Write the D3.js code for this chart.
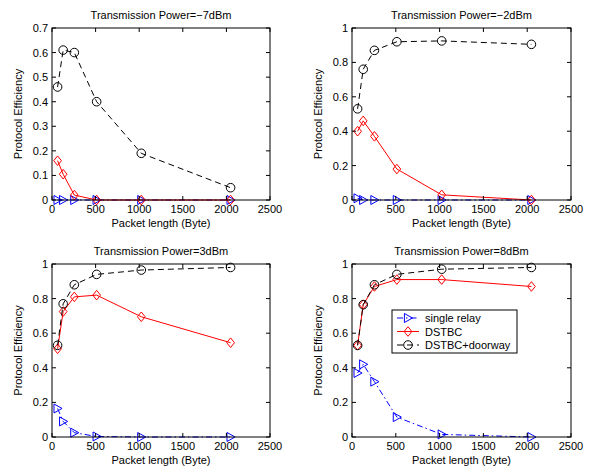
<!DOCTYPE html>
<html>
<head>
<meta charset="utf-8">
<script src="https://cdn.jsdelivr.net/npm/d3@7"></script>
<style>
  html, body { margin: 0; padding: 0; background: #fff; }
  svg { display: block; font-family: "Liberation Sans", Arial, sans-serif; }
</style>
</head>
<body>
<svg id="chart" width="591" height="473"></svg>
<script>
// Packet lengths (bytes) shared by every panel
const packetLengths = [64, 128, 256, 512, 1024, 2048];
const xTicks = [0, 500, 1000, 1500, 2000, 2500];

// Panel titles
const powers = ["Transmission Power=\u22127dBm", "Transmission Power=\u22122dBm",
                "Transmission Power=3dBm", "Transmission Power=8dBm"];

// Protocol efficiency per panel
const singleRelay = [
  [0, 0, 0, 0, 0, 0],
  [0.01, 0, 0, 0, 0, 0],
  [0.165, 0.09, 0.025, 0.003, 0, 0],
  [0.37, 0.42, 0.32, 0.115, 0.015, 0]
];
const dstbc = [
  [0.16, 0.105, 0.02, 0, 0, 0],
  [0.40, 0.46, 0.37, 0.18, 0.03, 0],
  [0.51, 0.725, 0.81, 0.82, 0.695, 0.545],
  [0.53, 0.765, 0.87, 0.91, 0.91, 0.87]
];
const dstbcDoorway = [
  [0.46, 0.61, 0.60, 0.40, 0.19, 0.05],
  [0.53, 0.76, 0.87, 0.92, 0.925, 0.905],
  [0.53, 0.77, 0.88, 0.94, 0.965, 0.98],
  [0.53, 0.765, 0.88, 0.94, 0.97, 0.98]
];
const yMax = [0.7, 1, 1, 1];
const yTicks = [
  [0, 0.1, 0.2, 0.3, 0.4, 0.5, 0.6, 0.7],
  [0, 0.2, 0.4, 0.6, 0.8, 1],
  [0, 0.2, 0.4, 0.6, 0.8, 1],
  [0, 0.2, 0.4, 0.6, 0.8, 1]
];
const seriesNames = ["single relay", "DSTBC", "DSTBC+doorway"];

// Panel frames (left, top, right, bottom)
const frames = [
  [52, 28, 270, 200],
  [352, 28, 571, 200],
  [52, 264, 270, 437],
  [352, 264, 571, 437]
];

const styles = [
  { color: "#0000ff", dash: "6,3,1.5,3", marker: "triangle" },
  { color: "#ff0000", dash: null, marker: "diamond" },
  { color: "#000000", dash: "6,4", marker: "circle" }
];

const svg = d3.select("#chart");

function drawMarker(g, type, color, x, y) {
  if (type === "circle") {
    g.append("circle").attr("cx", x).attr("cy", y).attr("r", 4.3)
      .attr("fill", "none").attr("stroke", color).attr("stroke-width", 1);
  } else if (type === "diamond") {
    const s = 4.8;
    g.append("path")
      .attr("d", `M${x},${y - s}L${x + s * 0.8},${y}L${x},${y + s}L${x - s * 0.8},${y}Z`)
      .attr("fill", "none").attr("stroke", color).attr("stroke-width", 1);
  } else {
    const s = 4.5;
    g.append("path")
      .attr("d", `M${x + s},${y}L${x - s * 0.8},${y - s}L${x - s * 0.8},${y + s}Z`)
      .attr("fill", "none").attr("stroke", color).attr("stroke-width", 1);
  }
}

frames.forEach((f, i) => {
  const [l, t, r, b] = f;
  const x = d3.scaleLinear().domain([0, 2500]).range([l, r]);
  const y = d3.scaleLinear().domain([0, yMax[i]]).range([b, t]);
  const g = svg.append("g");

  // series: single relay, DSTBC, DSTBC+doorway
  const data = [singleRelay[i], dstbc[i], dstbcDoorway[i]];
  const clipId = "clip" + i;
  svg.append("clipPath").attr("id", clipId)
    .append("rect").attr("x", l).attr("y", t - 6).attr("width", r - l).attr("height", b - t + 12);

  data.forEach((vals, s) => {
    const st = styles[s];
    const pts = packetLengths.map((p, k) => [x(p), y(vals[k])]);
    g.append("path")
      .attr("d", d3.line()(pts))
      .attr("fill", "none")
      .attr("stroke", st.color)
      .attr("stroke-width", 1)
      .attr("stroke-dasharray", st.dash);
    pts.forEach(([px, py]) => drawMarker(g, st.marker, st.color, px, py));
  });

  // frame box with inward ticks on all sides
  const axG = svg.append("g").attr("font-size", 11).attr("fill", "#000");
  axG.append("rect").attr("x", l).attr("y", t).attr("width", r - l).attr("height", b - t)
    .attr("fill", "none").attr("stroke", "#000").attr("stroke-width", 1);

  const tk = 4;
  xTicks.forEach(v => {
    const px = x(v);
    axG.append("line").attr("x1", px).attr("x2", px).attr("y1", b).attr("y2", b - tk).attr("stroke", "#000");
    axG.append("line").attr("x1", px).attr("x2", px).attr("y1", t).attr("y2", t + tk).attr("stroke", "#000");
    axG.append("text").attr("x", px).attr("y", b + 13).attr("text-anchor", "middle").text(v);
  });
  yTicks[i].forEach(v => {
    const py = y(v);
    axG.append("line").attr("x1", l).attr("x2", l + tk).attr("y1", py).attr("y2", py).attr("stroke", "#000");
    axG.append("line").attr("x1", r).attr("x2", r - tk).attr("y1", py).attr("y2", py).attr("stroke", "#000");
    axG.append("text").attr("x", l - 4).attr("y", py + 4).attr("text-anchor", "end").text(d3.format("~g")(v));
  });

  // titles and axis labels
  axG.append("text").attr("x", (l + r) / 2).attr("y", t - 9).attr("text-anchor", "middle").text(powers[i]);
  axG.append("text").attr("x", (l + r) / 2).attr("y", b + 27).attr("text-anchor", "middle").text("Packet length (Byte)");
  axG.append("text")
    .attr("transform", `translate(${l - 30},${(t + b) / 2}) rotate(-90)`)
    .attr("text-anchor", "middle").text("Protocol Efficiency");
});

// legend in the last panel
const leg = svg.append("g").attr("font-size", 11);
const lx = 392, ly = 310, lw = 125, lh = 43;
leg.append("rect").attr("x", lx).attr("y", ly).attr("width", lw).attr("height", lh)
  .attr("fill", "#fff").attr("stroke", "#000").attr("stroke-width", 1);
seriesNames.forEach((name, s) => {
  const st = styles[s];
  const yy = ly + 8 + s * 13.5;
  leg.append("line").attr("x1", lx + 5).attr("x2", lx + 27).attr("y1", yy).attr("y2", yy)
    .attr("stroke", st.color).attr("stroke-width", 1).attr("stroke-dasharray", st.dash);
  drawMarker(leg, st.marker, st.color, lx + 16, yy);
  leg.append("text").attr("x", lx + 33).attr("y", yy + 4).text(name);
});
</script>
</body>
</html>
